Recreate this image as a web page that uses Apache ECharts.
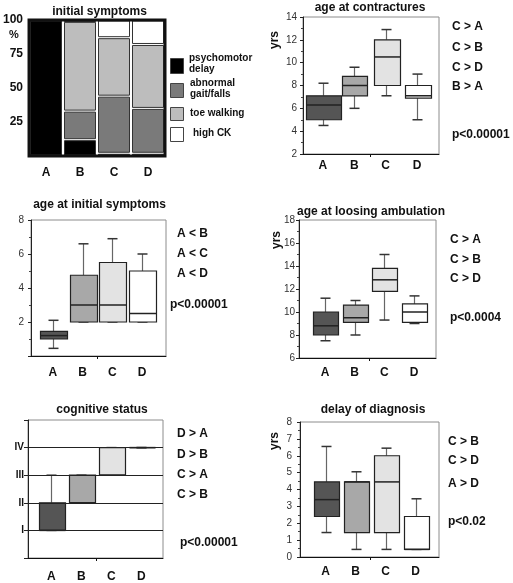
<!DOCTYPE html>
<html><head><meta charset="utf-8">
<script src="https://cdn.jsdelivr.net/npm/echarts@6/dist/echarts.min.js"></script>
<style>html,body{margin:0;padding:0;background:#fff}#c{width:513px;height:583px}</style>
</head><body><div id="c"></div>
<script>
// ---------- data ----------
const groups = ['A', 'B', 'C', 'D'];
// initial symptoms (% of patients), stacked from bottom
const psychomotorDelay = [100, 12, 2, 2];
const abnormalGait = [0, 21, 42, 33];
const toeWalking = [0, 66, 43, 47];
const highCK = [0, 1, 13, 18];
const symptomNames = ['psychomotor delay', 'abnormal gait/falls', 'toe walking', 'high CK'];
// box plots: [min, q1, median, q3, max] per group
const contracturesAge = [[4.5, 5.0, 6.3, 7.1, 8.2], [6.0, 7.1, 8.0, 8.8, 9.6], [7.1, 8.0, 10.5, 12.0, 12.9], [5.0, 6.9, 7.1, 8.0, 9.0]];
const initialSymptomsAge = [[0.45, 1.0, 1.2, 1.45, 2.1], [2.0, 2.0, 3.0, 4.75, 6.6], [2.0, 2.0, 3.0, 5.5, 6.9], [2.0, 2.0, 2.5, 5.0, 6.0]];
const ambulationLossAge = [[7.5, 8.0, 8.8, 10.0, 11.2], [8.0, 9.1, 9.5, 10.6, 11.0], [9.3, 11.8, 12.8, 13.8, 15.0], [9.0, 9.1, 10.0, 10.7, 11.4]];
const cognitiveStatus = [[1, 1, 1, 2, 3], [2, 2, 2, 3, 3], [3, 3, 3, 4, 4], [4, 4, 4, 4, 4]];
const diagnosisDelay = [[1.45, 2.4, 3.4, 4.45, 6.55], [0.45, 1.45, 4.45, 4.45, 5.05], [0.45, 1.45, 4.45, 6.0, 6.45], [0.45, 0.45, 0.45, 2.4, 3.45]];
const cognitiveLevels = ['', 'I', 'II', 'III', 'IV', ''];
const cognitiveGridLevels = [1, 2, 3, 4];
// comparison texts
const contracturesNotes = ['C > A', 'C > B', 'C > D', 'B > A', 'p<0.00001'];
const initialAgeNotes = ['A < B', 'A < C', 'A < D', 'p<0.00001'];
const ambulationNotes = ['C > A', 'C > B', 'C > D', 'p<0.0004'];
const cognitiveNotes = ['D > A', 'D > B', 'C > A', 'C > B', 'p<0.00001'];
const delayNotes = ['C > B', 'C > D', 'A > D', 'p<0.02'];

// ---------- styling ----------
const FONT = '"Liberation Sans", Arial, sans-serif';
const boxFill = ['#555555', '#a8a8a8', '#e3e3e3', '#ffffff'];
const symptomFill = ['#000000', '#7a7a7a', '#bdbdbd', '#ffffff'];

const chart = echarts.init(document.getElementById('c'));

const grids = [
  { left: 29, top: 20, width: 136, height: 136, show: true, borderColor: '#111', borderWidth: 3, z: 5 },
  { left: 303, top: 17, width: 136, height: 137 },
  { left: 31, top: 220, width: 135, height: 136 },
  { left: 299, top: 220, width: 137, height: 138 },
  { left: 28, top: 420, width: 135, height: 138 },
  { left: 300, top: 422, width: 139, height: 135 }
].map((g, i) => i === 0 ? g : Object.assign({ show: true, borderColor: '#8c8c8c', borderWidth: 1 }, g));

function boxXAxis(gi, min, max, margin) {
  return {
    gridIndex: gi, type: 'value', min: min, max: max,
    splitLine: { show: false },
    axisLine: { onZero: false, lineStyle: { color: '#111', width: 1 } },
    axisTick: { show: true, customValues: [1.5], length: 3, lineStyle: { color: '#111' } },
    axisLabel: { customValues: [0, 1, 2, 3], formatter: v => groups[Math.round(v)], margin: margin,
      fontFamily: FONT, fontWeight: 'bold', fontSize: 12, color: '#111' }
  };
}
function boxYAxis(gi, min, max, interval, margin, extra) {
  return Object.assign({
    gridIndex: gi, type: 'value', min: min, max: max, interval: interval,
    splitLine: { show: false },
    axisLine: { show: true, onZero: false, lineStyle: { color: '#222', width: 1 } },
    axisTick: { show: true, length: 3, lineStyle: { color: '#222' } },
    minorTick: { show: true, splitNumber: 2, length: 2, lineStyle: { color: '#444' } },
    axisLabel: { margin: margin, fontFamily: FONT, fontSize: 10, color: '#333' }
  }, extra || {});
}

const xAxes = [
  { gridIndex: 0, type: 'category', data: groups, boundaryGap: true,
    axisLine: { show: false }, axisTick: { show: false },
    axisLabel: { margin: 11, fontFamily: FONT, fontWeight: 'bold', fontSize: 12, color: '#111' } },
  boxXAxis(1, -0.635, 3.70, 6),
  boxXAxis(2, -0.74, 3.81, 11),
  boxXAxis(3, -0.875, 3.74, 9),
  boxXAxis(4, -0.775, 3.725, 13),
  boxXAxis(5, -0.85, 3.78, 9)
];
const yAxes = [
  { gridIndex: 0, type: 'value', min: 0, max: 100, interval: 25,
    splitLine: { show: false }, axisLine: { show: false }, axisTick: { show: false },
    axisLabel: { margin: 6, formatter: v => v === 0 ? '' : String(v), fontFamily: FONT, fontWeight: 'bold', fontSize: 12, color: '#111' } },
  boxYAxis(1, 2, 14, 2, 6),
  boxYAxis(2, 0, 8, 2, 7, { axisLabel: { margin: 7, formatter: v => v === 0 ? '' : String(v), fontFamily: FONT, fontSize: 10, color: '#333' } }),
  boxYAxis(3, 6, 18, 2, 4),
  boxYAxis(4, 0, 5, 1, 4, { minorTick: { show: false }, axisTick: { show: true, length: 4, lineStyle: { color: '#222' } },
    axisLabel: { margin: 4, formatter: v => cognitiveLevels[Math.round(v)], fontFamily: FONT, fontWeight: 'bold', fontSize: 10, color: '#111' } }),
  boxYAxis(5, 0, 8, 1, 8)
];

// stacked symptom segments
const symptomSets = [psychomotorDelay, abnormalGait, toeWalking, highCK];
const cum = groups.map(() => 0);
const symptomSeries = symptomSets.map((vals, si) => {
  const rows = vals.map((v, i) => { const r = [i, cum[i], cum[i] + v]; cum[i] += v; return r; });
  return {
    type: 'custom', name: symptomNames[si], xAxisIndex: 0, yAxisIndex: 0, z: 2,
    data: rows, encode: { x: 0, y: [1, 2] },
    renderItem: (params, api) => {
      if (api.value(2) - api.value(1) <= 0) return;
      const a = api.coord([api.value(0), api.value(1)]);
      const b = api.coord([api.value(0), api.value(2)]);
      const w = 32;
      return { type: 'rect',
        shape: { x: Math.round(a[0] - w / 2) + 0.5, y: b[1] + 1, width: w - 1, height: Math.max(a[1] - b[1] - 2, 0.5) },
        style: { fill: symptomFill[si], stroke: '#333', lineWidth: 1 } };
    }
  };
});

function boxSeries(gi, stats, boxW, extra) {
  return Object.assign({
    type: 'custom', xAxisIndex: gi, yAxisIndex: gi, z: 3, clip: false,
    data: stats.map((s, i) => [i].concat(s)),
    encode: { x: 0, y: [1, 2, 3, 4, 5] },
    renderItem: (params, api) => {
      const i = api.value(0);
      const p = k => api.coord([i, api.value(k)]);
      const pMin = p(1), pQ1 = p(2), pMd = p(3), pQ3 = p(4), pMax = p(5);
      const cx = Math.round(pMin[0]) + 0.5;
      const w = Array.isArray(boxW) ? boxW[i] : boxW;
      const cw = 10;
      const x0 = Math.round(cx - w / 2) + 0.5;
      const wh = { stroke: '#666', lineWidth: 1.2 };
      const cap = { stroke: '#333', lineWidth: 1.5 };
      const children = [
        { type: 'line', shape: { x1: cx, y1: pQ3[1], x2: cx, y2: pMax[1] }, style: wh },
        { type: 'line', shape: { x1: cx, y1: pQ1[1], x2: cx, y2: pMin[1] }, style: wh },
        { type: 'line', shape: { x1: cx - cw / 2, y1: pMax[1], x2: cx + cw / 2, y2: pMax[1] }, style: cap },
        { type: 'line', shape: { x1: cx - cw / 2, y1: pMin[1], x2: cx + cw / 2, y2: pMin[1] }, style: cap },
        { type: 'rect', shape: { x: x0, y: pQ3[1], width: w, height: pQ1[1] - pQ3[1] },
          style: { fill: boxFill[i], stroke: '#222', lineWidth: 1.2 } },
        { type: 'line', shape: { x1: x0, y1: pMd[1], x2: x0 + w, y2: pMd[1] }, style: { stroke: '#222', lineWidth: 1.5 } }
      ];
      return { type: 'group', children: children };
    }
  }, extra || {});
}

const series = symptomSeries.concat([
  boxSeries(1, contracturesAge, [35, 25, 26, 26]),
  boxSeries(2, initialSymptomsAge, 27),
  boxSeries(3, ambulationLossAge, 25),
  boxSeries(4, cognitiveStatus, 26, {
    markLine: { silent: true, symbol: ['none', 'none'], label: { show: false },
      lineStyle: { color: '#222', width: 1, type: 'solid' }, animation: false,
      data: cognitiveGridLevels.map(v => ({ yAxis: v })) } }),
  boxSeries(5, diagnosisDelay, 25)
]);

// ---------- texts ----------
function txt(text, x, y, opts) {
  return Object.assign({ type: 'text', x: x, y: y, silent: true, z: 10,
    style: Object.assign({ text: text, fill: '#111', font: 'bold 12px ' + FONT, textAlign: 'left', textVerticalAlign: 'middle' }, (opts && opts.style) || {}) },
    opts && opts.rotation !== undefined ? { rotation: opts.rotation } : {});
}
const graphics = [];
[['initial symptoms', 99.5, 12], ['age at contractures', 370, 8], ['age at initial symptoms', 99.5, 205],
 ['age at loosing ambulation', 371, 212], ['cognitive status', 102, 410], ['delay of diagnosis', 373, 410]]
  .forEach(t => graphics.push(txt(t[0], t[1], t[2], { style: { textAlign: 'center' } })));
graphics.push(txt('%', 14, 35, { style: { textAlign: 'center', font: 'bold 11px ' + FONT } }));
[[275, 40], [277, 240], [275, 441]].forEach(p => graphics.push(txt('yrs', p[0], p[1], { rotation: Math.PI / 2, style: { textAlign: 'center' } })));

function notes(list, x, ys) { list.forEach((t, k) => graphics.push(txt(t, x, ys[k]))); }
notes(contracturesNotes, 452, [27, 48, 68, 87, 135]);
notes(initialAgeNotes, 177, [234, 254, 274, 305]);
graphics[graphics.length - 1].x = 170;
notes(ambulationNotes, 450, [240, 260, 279, 318]);
notes(cognitiveNotes, 177, [434, 455, 475, 495, 543]);
graphics[graphics.length - 1].x = 180;
notes(delayNotes, 448, [442, 461, 484, 522]);

// legend for initial symptoms
const legendBoxes = [[58, 73], [83, 97], [107, 120], [127, 141]];
legendBoxes.forEach((b, k) => graphics.push({ type: 'rect', silent: true, z: 10,
  shape: { x: 170.5, y: b[0] + 0.5, width: 13, height: b[1] - b[0] },
  style: { fill: symptomFill[k], stroke: '#444', lineWidth: 1 } }));
[['psychomotor', 189, 58], ['delay', 189, 69], ['abnormal', 190, 83], ['gait/falls', 190, 94],
 ['toe walking', 190, 113], ['high CK', 193, 133]]
  .forEach(t => graphics.push(txt(t[0], t[1], t[2], { style: { font: 'bold 10px ' + FONT } })));

chart.setOption({
  animation: false,
  grid: grids, xAxis: xAxes, yAxis: yAxes, series: series, graphic: graphics
});
</script>
</body></html>
